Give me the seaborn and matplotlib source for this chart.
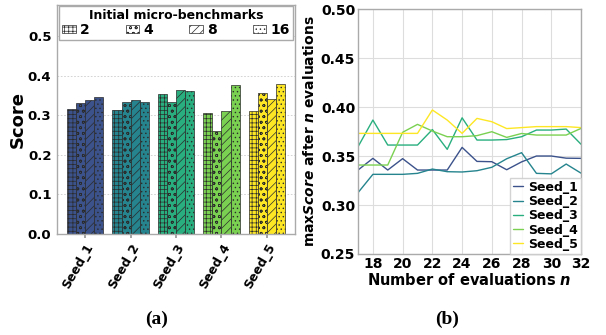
import matplotlib
matplotlib.use("Agg")
import matplotlib.pyplot as plt
from matplotlib.patches import Patch
import seaborn as sns
import pandas as pd

# ---- (a) final score per seed and number of initial micro-benchmarks ----
seeds = ["Seed_1", "Seed_2", "Seed_3", "Seed_4", "Seed_5"]
init_sizes = ["2", "4", "8", "16"]
scores_2 = [0.315, 0.313, 0.353, 0.306, 0.3115]
scores_4 = [0.331, 0.333, 0.333, 0.259, 0.357]
scores_8 = [0.3375, 0.3375, 0.3645, 0.3115, 0.340]
scores_16 = [0.346, 0.332, 0.360, 0.377, 0.3786]

# ---- (b) best score found after n evaluations ----
n_evals = list(range(17, 33))
seed_1 = [0.3357, 0.3476, 0.3357, 0.3473, 0.3357, 0.3357, 0.3357, 0.3588,
          0.3445, 0.3442, 0.3360, 0.3440, 0.3500, 0.3500, 0.3478, 0.3476]
seed_2 = [0.3126, 0.3313, 0.3313, 0.3313, 0.3323, 0.3367, 0.3340, 0.3337,
          0.3350, 0.3385, 0.3472, 0.3534, 0.3323, 0.3318, 0.3418, 0.3325]
seed_3 = [0.3595, 0.3867, 0.3612, 0.3612, 0.3612, 0.3770, 0.3568, 0.3890,
          0.3663, 0.3663, 0.3668, 0.3697, 0.3765, 0.3765, 0.3775, 0.3620]
seed_4 = [0.3408, 0.3408, 0.3408, 0.3742, 0.3823, 0.3755, 0.3697, 0.3697,
          0.3708, 0.3748, 0.3690, 0.3730, 0.3714, 0.3714, 0.3714, 0.3782]
seed_5 = [0.3731, 0.3731, 0.3731, 0.3731, 0.3731, 0.3970, 0.3867, 0.3731,
          0.3884, 0.3850, 0.3780, 0.3790, 0.3800, 0.3800, 0.3800, 0.3790]

seed_colors = [matplotlib.colormaps["viridis"](v) for v in (0.25, 0.45, 0.63, 0.8, 1.0)]
hatches = ["++++", "ooo", "////", "...."]

sns.set_theme(style="whitegrid")
plt.rcParams["font.family"] = ["DejaVu Sans"]
plt.rcParams["font.weight"] = "bold"
plt.rcParams["text.color"] = "black"
plt.rcParams["axes.labelcolor"] = "black"
plt.rcParams["xtick.color"] = "black"
plt.rcParams["ytick.color"] = "black"
plt.rcParams["hatch.linewidth"] = 0.5
plt.rcParams["mathtext.fontset"] = "custom"
plt.rcParams["mathtext.rm"] = "DejaVu Sans:bold"
plt.rcParams["mathtext.it"] = "DejaVu Sans:italic:bold"
plt.rcParams["mathtext.bf"] = "DejaVu Sans:bold"

fig = plt.figure(figsize=(6.06, 3.35), dpi=100)
ax1 = fig.add_axes([0.094, 0.3015, 0.393, 0.6835])
ax2 = fig.add_axes([0.5908, 0.2418, 0.368, 0.7312])

# ---------------- bar chart ----------------
bar_df = pd.DataFrame({
    "seed": seeds * 4,
    "init": sum([[s] * len(seeds) for s in init_sizes], []),
    "score": scores_2 + scores_4 + scores_8 + scores_16,
})
sns.barplot(data=bar_df, x="seed", y="score", hue="init", hue_order=init_sizes,
            order=seeds, width=0.8, ax=ax1, legend=False, errorbar=None,
            saturation=1)
for hi, cont in enumerate(ax1.containers):
    for si, bar in enumerate(cont.patches):
        bar.set_facecolor(seed_colors[si])
        bar.set_edgecolor("#2b2b2b")
        bar.set_linewidth(0.5)
        bar.set_hatch(hatches[hi])

ax1.set_xlim(-0.62, 4.62)
ax1.set_ylim(0, 0.578)
ax1.set_yticks([0.0, 0.1, 0.2, 0.3, 0.4, 0.5])
ax1.set_yticklabels([f"{v:.1f}" for v in [0.0, 0.1, 0.2, 0.3, 0.4, 0.5]],
                    fontsize=9.5, fontweight="bold")
ax1.set_xticks(range(len(seeds)))
ax1.set_xticklabels(seeds, rotation=60, ha="right", rotation_mode="anchor",
                    fontsize=9, fontweight="bold")
ax1.set_xlabel("")
ax1.set_ylabel("Score", fontsize=13, fontweight="bold", labelpad=1)
ax1.grid(axis="y", linestyle=(0, (2, 2)), color="#cccccc", linewidth=0.6)
ax1.grid(axis="x", visible=False)
ax1.tick_params(axis="x", bottom=True, length=3, color="#999999", pad=2)
ax1.tick_params(axis="y", left=False, length=0, pad=4)
for sp in ax1.spines.values():
    sp.set_color("#aaaaaa")
    sp.set_linewidth(1.0)

handles = [Patch(facecolor="white", edgecolor="#2b2b2b", hatch=h, linewidth=0.5)
           for h in hatches]
leg1 = ax1.legend(handles, init_sizes, title="Initial micro-benchmarks", ncol=4,
                  loc="upper left", bbox_to_anchor=(0.01, 0.995, 0.98, 0.0),
                  mode="expand", fontsize=10, title_fontsize=9,
                  handlelength=1.0, handleheight=0.5, handletextpad=0.3,
                  borderpad=0.2, labelspacing=0.1, borderaxespad=0.0,
                  frameon=True, fancybox=False, edgecolor="#aaaaaa",
                  framealpha=1.0)
leg1.get_title().set_fontweight("bold")
for t in leg1.get_texts():
    t.set_fontweight("bold")

# ---------------- line chart ----------------
line_df = pd.DataFrame({
    "n": n_evals * 5,
    "seed": sum([[s] * len(n_evals) for s in seeds], []),
    "best": seed_1 + seed_2 + seed_3 + seed_4 + seed_5,
})
sns.lineplot(data=line_df, x="n", y="best", hue="seed", hue_order=seeds,
             palette=seed_colors, linewidth=1.0, ax=ax2, errorbar=None)
ax2.set_xlim(17, 32)
ax2.set_ylim(0.25, 0.50)
ax2.set_xticks(range(18, 33, 2))
ax2.set_xticklabels([str(v) for v in range(18, 33, 2)], fontsize=10, fontweight="bold")
yt = [0.25, 0.30, 0.35, 0.40, 0.45, 0.50]
ax2.set_yticks(yt)
ax2.set_yticklabels([f"{v:.2f}" for v in yt], fontsize=10, fontweight="bold")
ax2.set_xlabel("Number of evaluations $n$", fontsize=10.5, fontweight="bold", labelpad=1)
ax2.set_ylabel("max$Score$ after $n$ evaluations", fontsize=10, fontweight="bold", labelpad=3)
ax2.grid(True, color="#dddddd", linewidth=0.8)
ax2.tick_params(axis="both", length=0, pad=2)
for sp in ax2.spines.values():
    sp.set_color("#aaaaaa")
    sp.set_linewidth(1.0)
leg2 = ax2.legend(loc="lower right", fontsize=9, handlelength=0.8,
                  handletextpad=0.4, borderpad=0.25, labelspacing=0.1,
                  borderaxespad=0.0, frameon=True, fancybox=False,
                  edgecolor="#cccccc", framealpha=0.85)
for t in leg2.get_texts():
    t.set_fontweight("bold")

# ---------------- panel captions ----------------
fig.text(0.259, 0.048, "(a)", ha="center", va="center", fontsize=14,
         fontweight="bold", family="Liberation Serif")
fig.text(0.738, 0.048, "(b)", ha="center", va="center", fontsize=14,
         fontweight="bold", family="Liberation Serif")

fig.savefig("out.png", dpi=100)
